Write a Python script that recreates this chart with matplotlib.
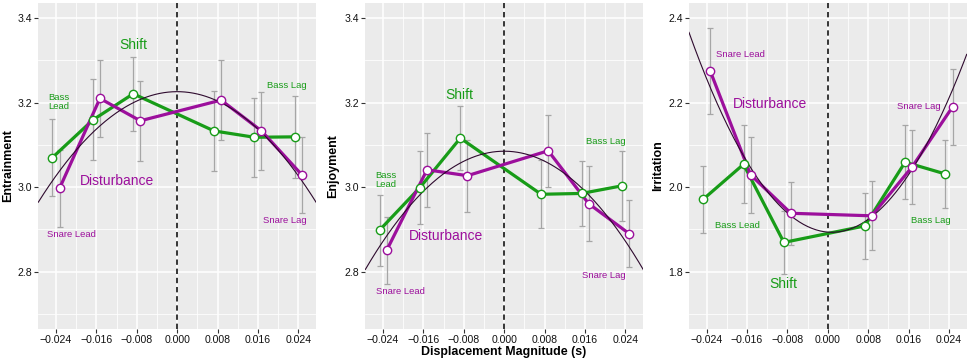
import numpy as np
import matplotlib
matplotlib.use("Agg")
import matplotlib.pyplot as plt
from matplotlib.ticker import MultipleLocator

plt.rcParams["font.family"] = ["Liberation Sans", "DejaVu Sans"]

# dodged displacement positions (s)
shift_x = [-0.0247, -0.0167, -0.0087, 0.0073, 0.0153, 0.0233]
dist_x = [-0.0233, -0.0153, -0.0073, 0.0087, 0.0167, 0.0247]

# Entrainment
shift_ent = [3.070, 3.159, 3.221, 3.133, 3.118, 3.119]
shift_ent_se = [0.091, 0.096, 0.087, 0.094, 0.093, 0.097]
dist_ent = [2.997, 3.210, 3.157, 3.206, 3.133, 3.029]
dist_ent_se = [0.091, 0.091, 0.095, 0.094, 0.093, 0.090]

# Enjoyment
shift_enj = [2.898, 2.999, 3.116, 2.983, 2.985, 3.003]
shift_enj_se = [0.084, 0.087, 0.076, 0.080, 0.077, 0.083]
dist_enj = [2.850, 3.041, 3.027, 3.086, 2.961, 2.890]
dist_enj_se = [0.080, 0.087, 0.085, 0.085, 0.088, 0.079]

# Irritation
shift_irr = [1.971, 2.054, 1.869, 1.908, 2.059, 2.031]
shift_irr_se = [0.080, 0.092, 0.075, 0.079, 0.087, 0.080]
dist_irr = [2.275, 2.029, 1.938, 1.932, 2.048, 2.190]
dist_irr_se = [0.101, 0.090, 0.074, 0.082, 0.087, 0.090]

# quadratic fit, vertex form: (curvature, vertex x, vertex y)
fit_ent = [-346.0, 0.0, 3.226]
fit_enj = [-370.0, 0.0, 3.085]
fit_irr = [591.0, 0.0008, 1.893]

x_ticks = [-0.024, -0.016, -0.008, 0.0, 0.008, 0.016, 0.024]
x_tick_labels = ["\u22120.024", "\u22120.016", "\u22120.008", "0.000", "0.008", "0.016", "0.024"]

GREEN = "#189c18"
PURPLE = "#9c0f9c"
CURVE = "#2e0a2e"

# (text, x, y, colour, size, ha)
labels_ent = [
    ("Shift", -0.0087, 3.337, GREEN, 10, "center"),
    ("Disturbance", -0.0120, 3.015, PURPLE, 10, "center"),
    ("Bass\nLead", -0.0256, 3.202, GREEN, 6.8, "left"),
    ("Bass Lag", 0.0218, 3.240, GREEN, 6.8, "center"),
    ("Snare Lead", -0.0209, 2.887, PURPLE, 6.8, "center"),
    ("Snare Lag", 0.0214, 2.920, PURPLE, 6.8, "center"),
]
labels_enj = [
    ("Shift", -0.0089, 3.219, GREEN, 10, "center"),
    ("Disturbance", -0.0115, 2.884, PURPLE, 10, "center"),
    ("Bass\nLead", -0.0256, 3.017, GREEN, 6.8, "left"),
    ("Bass Lag", 0.0202, 3.109, GREEN, 6.8, "center"),
    ("Snare Lead", -0.0206, 2.753, PURPLE, 6.8, "center"),
    ("Snare Lag", 0.0197, 2.791, PURPLE, 6.8, "center"),
]
labels_irr = [
    ("Snare Lead", -0.0174, 2.315, PURPLE, 6.8, "center"),
    ("Disturbance", -0.0115, 2.196, PURPLE, 10, "center"),
    ("Bass Lead", -0.0179, 1.908, GREEN, 6.8, "center"),
    ("Shift", -0.0088, 1.770, GREEN, 10, "center"),
    ("Snare Lag", 0.0180, 2.191, PURPLE, 6.8, "center"),
    ("Bass Lag", 0.0203, 1.920, GREEN, 6.8, "center"),
]

panels = [
    ("Entrainment", shift_ent, shift_ent_se, dist_ent, dist_ent_se, fit_ent, labels_ent,
     (2.664, 3.436), [2.8, 3.0, 3.2, 3.4], 0.0395, -0.108),
    ("Enjoyment", shift_enj, shift_enj_se, dist_enj, dist_enj_se, fit_enj, labels_enj,
     (2.664, 3.436), [2.8, 3.0, 3.2, 3.4], 0.3767, -0.118),
    ("Irritation", shift_irr, shift_irr_se, dist_irr, dist_irr_se, fit_irr, labels_irr,
     (1.664, 2.436), [1.8, 2.0, 2.2, 2.4], 0.7103, -0.111),
]

XLIM = (-0.0275, 0.0275)

fig = plt.figure(figsize=(9.7, 3.64), dpi=100)

for (ylab, s_y, s_se, d_y, d_se, fit, labels, ylim, yticks, left, ylab_x) in panels:
    ax = fig.add_axes([left, 0.0962, 0.2863, 0.8956])
    ax.set_facecolor("#ebebeb")
    for sp in ax.spines.values():
        sp.set_visible(False)

    ax.set_xlim(*XLIM)
    ax.set_ylim(*ylim)
    ax.set_xticks(x_ticks)
    ax.set_xticklabels(x_tick_labels)
    ax.set_yticks(yticks)
    ax.set_yticklabels([f"{t:.1f}" for t in yticks])
    ax.xaxis.set_minor_locator(MultipleLocator(0.004))
    ax.yaxis.set_minor_locator(MultipleLocator(0.1))
    ax.grid(True, which="major", color="white", lw=1.1)
    ax.grid(True, which="minor", color="white", lw=0.55)
    ax.set_axisbelow(True)
    ax.tick_params(which="major", length=2.8, width=0.8, color="#333333",
                   labelsize=7.6, labelcolor="#111111", pad=1.5)
    ax.tick_params(which="minor", length=0)

    ax.axvline(0, color="black", lw=1.1, ls=(0, (3.5, 2.5)), zorder=2)

    ax.errorbar(shift_x, s_y, yerr=s_se, fmt="none", ecolor="#a6a6a6",
                elinewidth=0.9, capsize=2.4, capthick=0.9, zorder=2.5)
    ax.errorbar(dist_x, d_y, yerr=d_se, fmt="none", ecolor="#a6a6a6",
                elinewidth=0.9, capsize=2.4, capthick=0.9, zorder=2.5)

    ax.plot(shift_x, s_y, color=GREEN, lw=2.3, zorder=3, solid_capstyle="round")
    ax.plot(dist_x, d_y, color=PURPLE, lw=2.3, zorder=3.1, solid_capstyle="round")

    xs = np.linspace(XLIM[0], XLIM[1], 200)
    a, h, k = fit
    ax.plot(xs, a * (xs - h) ** 2 + k, color=CURVE, lw=0.8, zorder=3.5)

    ax.plot(shift_x, s_y, "o", ms=6, mfc="white", mec=GREEN, mew=1.0, zorder=4)
    ax.plot(dist_x, d_y, "o", ms=6, mfc="white", mec=PURPLE, mew=1.0, zorder=4.1)

    for txt, tx, ty, col, size, ha in labels:
        ax.text(tx, ty, txt, color=col, fontsize=size, ha=ha, va="center",
                linespacing=1.0, zorder=5)

    ax.set_ylabel(ylab, fontsize=9, fontweight="bold", va="center")
    ax.yaxis.set_label_coords(ylab_x, 0.5)

fig.text(504 / 970, 1 - 351.7 / 364, "Displacement Magnitude (s)", ha="center",
         va="center", fontsize=8.9, fontweight="bold")

fig.savefig("out.png", dpi=100)
